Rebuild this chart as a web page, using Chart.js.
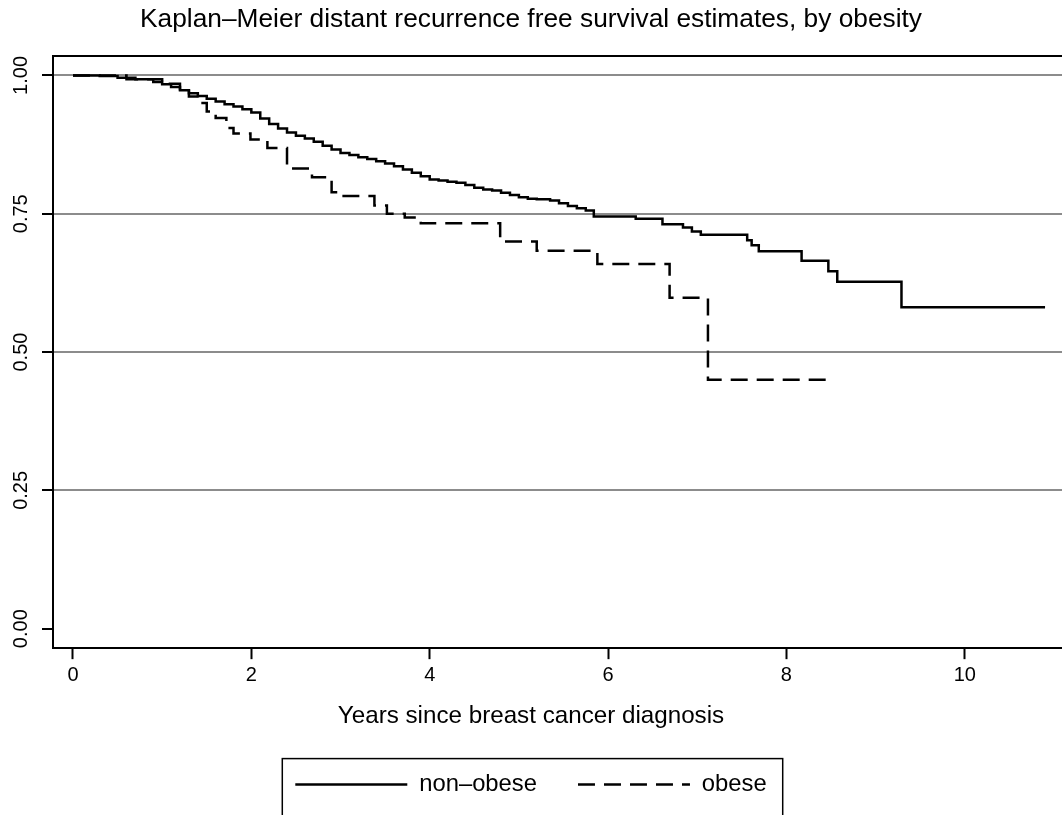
<!DOCTYPE html>
<html lang="en">
<head>
<meta charset="UTF-8">
<title>Kaplan–Meier distant recurrence free survival, by obesity</title>
<script src="https://cdn.jsdelivr.net/npm/chart.js"></script>
<style>
    body {
        margin: 0;
        padding: 0;
        background: #fff;
    }
    .wrap {
        width: 1062px;
        height: 815px;
        position: relative;
    }
</style>
</head>
<body>
<div class="wrap">
    <canvas id="kmChart"></canvas>
</div>
<script>
    // Step points (years, survival after the drop)
    const nonObeseYears = [0, 0.3, 0.5, 0.7, 0.9, 1.0, 1.1, 1.2, 1.3, 1.4, 1.5, 1.6, 1.7, 1.8, 1.9,
        2.0, 2.1, 2.2, 2.3, 2.4, 2.5, 2.6, 2.7, 2.8, 2.9, 3.0, 3.1, 3.2, 3.3, 3.4, 3.5, 3.6, 3.7,
        3.8, 3.9, 4.0, 4.1, 4.2, 4.3, 4.4, 4.5, 4.6, 4.7, 4.8, 4.9, 5.0, 5.1, 5.2, 5.35, 5.45,
        5.55, 5.65, 5.75, 5.84, 6.31, 6.61, 6.84, 6.94, 7.04, 7.56, 7.61, 7.69, 8.17, 8.47,
        8.57, 9.29, 10.9];
    const nonObeseSurv = [1.0, 0.999, 0.996, 0.993, 0.988, 0.984, 0.979, 0.973, 0.968, 0.963,
        0.958, 0.953, 0.948, 0.944, 0.939, 0.933, 0.922, 0.912, 0.904, 0.897, 0.891, 0.886,
        0.880, 0.873, 0.866, 0.860, 0.856, 0.852, 0.849, 0.845, 0.841, 0.836, 0.830, 0.824,
        0.818, 0.812, 0.810, 0.808, 0.806, 0.802, 0.797, 0.794, 0.792, 0.788, 0.784, 0.780,
        0.777, 0.776, 0.774, 0.769, 0.764, 0.760, 0.756, 0.745, 0.741, 0.731, 0.725, 0.718,
        0.712, 0.702, 0.693, 0.682, 0.665, 0.646, 0.627, 0.581, 0.581];

    const obeseYears = [0, 0.6, 1.0, 1.2, 1.3, 1.4, 1.5, 1.6, 1.72, 1.8, 1.99, 2.18, 2.40,
        2.68, 2.90, 3.00, 3.38, 3.52, 3.72, 3.90, 4.79, 5.20, 5.88, 6.69, 7.12, 8.45];
    const obeseSurv = [1.0, 0.993, 0.985, 0.975, 0.962, 0.950, 0.935, 0.923, 0.905, 0.895,
        0.884, 0.869, 0.832, 0.816, 0.789, 0.782, 0.765, 0.750, 0.743, 0.733, 0.700, 0.683,
        0.659, 0.598, 0.450, 0.450];

    const xTicks = [0, 2, 4, 6, 8, 10];
    const yTicks = [0, 0.25, 0.5, 0.75, 1.0];

    const toPoints = (xs, ys) => xs.map((x, i) => ({ x: x, y: ys[i] }));

    // top edge of the plot box + outline round the legend
    const framePlugin = {
        id: 'frame',
        afterDraw(chart) {
            const { ctx, chartArea: a, legend } = chart;
            ctx.save();
            ctx.strokeStyle = '#000';
            ctx.lineWidth = 2;
            ctx.beginPath();
            ctx.moveTo(a.left, a.top);
            ctx.lineTo(a.right, a.top);
            ctx.stroke();

            const hb = legend.legendHitBoxes;
            if (hb && hb.length) {
                const first = hb[0], last = hb[hb.length - 1];
                const cy = first.top + first.height / 2;
                ctx.lineWidth = 1.5;
                ctx.strokeRect(first.left - 13, cy - 26, (last.left + last.width + 16) - (first.left - 13), 80);
            }
            ctx.restore();
        }
    };

    Chart.defaults.font.family = '"Liberation Sans", Arial, Helvetica, sans-serif';
    Chart.defaults.color = '#000';

    new Chart(document.getElementById('kmChart'), {
        type: 'line',
        data: {
            datasets: [{
                label: 'non–obese',
                data: toPoints(nonObeseYears, nonObeseSurv),
                borderColor: '#000',
                backgroundColor: '#000',
                borderWidth: 2.5,
                pointRadius: 0,
                stepped: true,
                fill: false
            }, {
                label: 'obese',
                data: toPoints(obeseYears, obeseSurv),
                borderColor: '#000',
                backgroundColor: '#000',
                borderWidth: 2.5,
                borderDash: [17, 9],
                pointRadius: 0,
                stepped: true,
                fill: false
            }]
        },
        options: {
            responsive: true,
            maintainAspectRatio: false,
            animation: false,
            layout: { padding: { left: 0, right: 0, top: 0, bottom: 8.5 } },
            plugins: {
                title: {
                    display: true,
                    text: 'Kaplan–Meier distant recurrence free survival estimates, by obesity',
                    font: { size: 26.3, weight: 'normal' },
                    color: '#000',
                    padding: { top: 4, bottom: 20.4 }
                },
                subtitle: {
                    display: true,
                    position: 'bottom',
                    text: 'Years since breast cancer diagnosis',
                    font: { size: 24.2, weight: 'normal' },
                    color: '#000',
                    padding: { top: 7.6, bottom: 0.9 }
                },
                legend: {
                    position: 'bottom',
                    weight: 1600,
                    labels: {
                        usePointStyle: true,
                        pointStyle: 'line',
                        pointStyleWidth: 112,
                        font: { size: 23.8 },
                        color: '#000',
                        padding: 41,
                        // point-style items lose the dataset's dash, put it back
                        generateLabels: chart => Chart.defaults.plugins.legend.labels.generateLabels(chart).map(item => {
                            const ds = chart.data.datasets[item.datasetIndex];
                            item.lineDash = ds.borderDash || [];
                            item.lineWidth = ds.borderWidth;
                            item.strokeStyle = ds.borderColor;
                            return item;
                        })
                    }
                },
                tooltip: { enabled: false }
            },
            scales: {
                x: {
                    type: 'linear',
                    min: -0.224,
                    max: 11.09,
                    afterBuildTicks: s => { s.ticks = xTicks.map(v => ({ value: v })); },
                    afterFit: s => { s.height = 46; },
                    grid: { drawOnChartArea: false, tickLength: 11, tickColor: '#000', tickWidth: 2 },
                    border: { color: '#000', width: 2 },
                    ticks: {
                        font: { size: 20 },
                        color: '#000',
                        padding: 4,
                        maxRotation: 0,
                        autoSkip: false,
                        callback: v => String(v)
                    }
                },
                y: {
                    type: 'linear',
                    min: -0.0352,
                    max: 1.0352,
                    afterBuildTicks: s => { s.ticks = yTicks.map(v => ({ value: v })); },
                    afterFit: s => { s.width = 53; },
                    grid: {
                        color: c => (c.tick && c.tick.value > 0 ? '#8c8c8c' : 'rgba(0,0,0,0)'),
                        lineWidth: 2,
                        tickLength: 11,
                        tickColor: '#000',
                        tickWidth: 2
                    },
                    border: { color: '#000', width: 2 },
                    ticks: {
                        font: { size: 20 },
                        color: '#000',
                        padding: 1,
                        minRotation: 90,
                        maxRotation: 90,
                        crossAlign: 'center',
                        autoSkip: false,
                        callback: v => v.toFixed(2)
                    }
                }
            }
        },
        plugins: [framePlugin]
    });
</script>
</body>
</html>
